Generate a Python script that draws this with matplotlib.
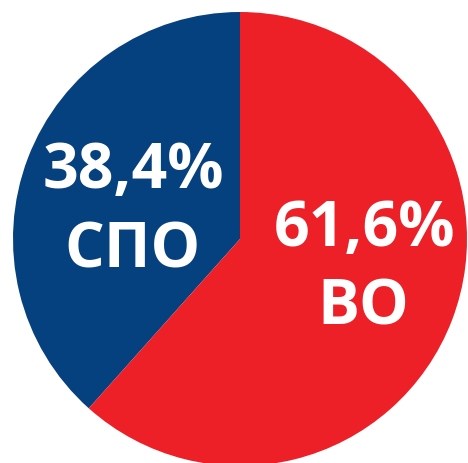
import matplotlib
matplotlib.use('Agg')
import matplotlib.pyplot as plt

# доли образования
labels = ['СПО', 'ВО']
shares = [38.4, 61.6]
colors = ['#05407f', '#ed1f27']

fig = plt.figure(figsize=(4.68, 4.64), dpi=100)
# круг ~ центр (240, 240) px, радиус 227 px
ax = fig.add_axes([13 / 468, (464 - 467) / 464, 454 / 468, 454 / 464])
ax.pie(shares, colors=colors, startangle=90, counterclock=True,
       radius=1, wedgeprops=dict(linewidth=0))
ax.set_xlim(-1, 1)
ax.set_ylim(-1, 1)
ax.set_aspect('auto')
ax.axis('off')


def px(x, y):
    return (x - 240) / 227, (240 - y) / 227


# подписи: процент и категория
pos = {'СПО': [(133, 171), (132, 251)], 'ВО': [(364, 230), (363, 308)]}
for lab, val in zip(labels, shares):
    p1, p2 = pos[lab]
    txt = ('%.1f%%' % val).replace('.', ',')
    ax.text(*px(*p1), txt, ha='center', va='center', color='white',
            fontsize=45, fontweight='bold', family='Open Sans')
    ax.text(*px(*p2), lab, ha='center', va='center', color='white',
            fontsize=45, fontweight='bold', family='Open Sans')

plt.savefig('out.png', dpi=100)
